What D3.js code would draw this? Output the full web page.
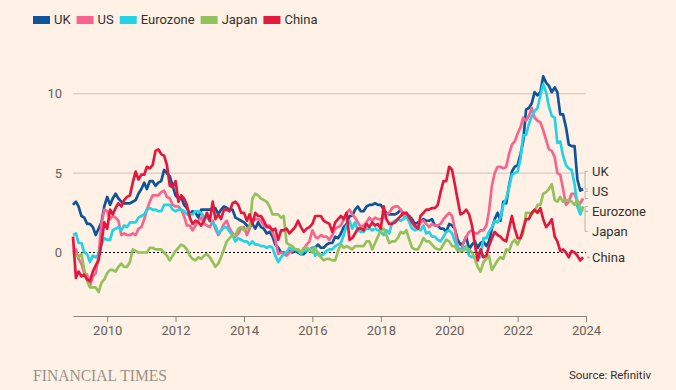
<!DOCTYPE html>
<html>
<head>
<meta charset="utf-8">
<script src="https://cdn.jsdelivr.net/npm/d3@7"></script>
<style>
  body { margin: 0; background: #fff1e5; }
  svg text { font-family: Roboto, "Open Sans", sans-serif; }
</style>
</head>
<body>
<div id="chart"></div>
<script>
// Monthly inflation, % year on year, Jan 2009 - Dec 2023
const seriesNames = ["UK", "US", "Eurozone", "Japan", "China"];
const seriesColors = ["#0f5499", "#f6648f", "#22d3e6", "#93c15c", "#e1193f"];

const ukValues = [
  3.0, 3.2, 2.9, 2.3, 2.2, 1.8, 1.8, 1.6, 1.1, 1.5, 1.9, 2.9,
  3.5, 3.0, 3.4, 3.7, 3.4, 3.2, 3.1, 3.1, 3.1, 3.2, 3.3, 3.7,
  4.0, 4.4, 4.0, 4.5, 4.5, 4.2, 4.4, 4.5, 5.2, 5.0, 4.8, 4.2,
  3.6, 3.4, 3.5, 3.0, 2.8, 2.4, 2.6, 2.5, 2.2, 2.7, 2.7, 2.7,
  2.7, 2.8, 2.8, 2.4, 2.7, 2.9, 2.8, 2.7, 2.7, 2.2, 2.1, 2.0,
  1.9, 1.7, 1.6, 1.8, 1.5, 1.9, 1.6, 1.5, 1.2, 1.3, 1.0, 0.5,
  0.3, 0.0, 0.0, -0.1, 0.1, 0.0, 0.1, 0.0, -0.1, -0.1, 0.1, 0.2,
  0.3, 0.3, 0.5, 0.3, 0.3, 0.5, 0.6, 0.6, 1.0, 0.9, 1.2, 1.6,
  1.8, 2.3, 2.3, 2.7, 2.9, 2.6, 2.6, 2.9, 3.0, 3.0, 3.1, 3.0,
  3.0, 2.7, 2.5, 2.4, 2.4, 2.4, 2.5, 2.7, 2.4, 2.4, 2.3, 2.1,
  1.8, 1.9, 1.9, 2.1, 2.0, 2.0, 2.1, 1.7, 1.7, 1.5, 1.5, 1.3,
  1.8, 1.7, 1.5, 0.8, 0.5, 0.6, 1.0, 0.2, 0.5, 0.7, 0.3, 0.6,
  0.7, 0.4, 0.7, 1.5, 2.1, 2.5, 2.0, 3.2, 3.1, 4.2, 5.1, 5.4,
  5.5, 6.2, 7.0, 9.0, 9.1, 9.4, 10.1, 9.9, 10.1, 11.1, 10.7, 10.5,
  10.1, 10.4, 10.1, 8.7, 8.7, 7.9, 6.8, 6.7, 6.7, 4.6, 3.9, 4.0
];

const usValues = [
  0.0, 0.2, -0.4, -0.7, -1.3, -1.4, -2.1, -1.5, -1.3, -0.2, 1.8, 2.7,
  2.6, 2.1, 2.3, 2.2, 2.0, 1.1, 1.2, 1.1, 1.1, 1.2, 1.1, 1.5,
  1.6, 2.1, 2.7, 3.2, 3.6, 3.6, 3.6, 3.8, 3.9, 3.5, 3.4, 3.0,
  2.9, 2.9, 2.7, 2.3, 1.7, 1.7, 1.4, 1.7, 2.0, 2.2, 1.8, 1.7,
  1.6, 2.0, 1.5, 1.1, 1.4, 1.8, 2.0, 1.5, 1.2, 1.0, 1.2, 1.5,
  1.6, 1.1, 1.5, 2.0, 2.1, 2.1, 2.0, 1.7, 1.7, 1.7, 1.3, 0.8,
  -0.1, 0.0, -0.1, -0.2, 0.0, 0.1, 0.2, 0.2, 0.0, 0.2, 0.5, 0.7,
  1.4, 1.0, 0.9, 1.1, 1.0, 1.0, 0.8, 1.1, 1.5, 1.6, 1.7, 2.1,
  2.5, 2.7, 2.4, 2.2, 1.9, 1.6, 1.7, 1.9, 2.2, 2.0, 2.2, 2.1,
  2.1, 2.2, 2.4, 2.5, 2.8, 2.9, 2.9, 2.7, 2.3, 2.5, 2.2, 1.9,
  1.6, 1.5, 1.9, 2.0, 1.8, 1.6, 1.8, 1.7, 1.7, 1.8, 2.1, 2.3,
  2.5, 2.3, 1.5, 0.3, 0.1, 0.6, 1.0, 1.3, 1.4, 1.2, 1.2, 1.4,
  1.4, 1.7, 2.6, 4.2, 5.0, 5.4, 5.4, 5.3, 5.4, 6.2, 6.8, 7.0,
  7.5, 7.9, 8.5, 8.3, 8.6, 9.1, 8.5, 8.3, 8.2, 7.7, 7.1, 6.5,
  6.4, 6.0, 5.0, 4.9, 4.0, 3.0, 3.2, 3.7, 3.7, 3.2, 3.1, 3.4
];

const eurozoneValues = [
  1.1, 1.2, 0.6, 0.6, 0.0, -0.1, -0.6, -0.2, -0.3, -0.1, 0.5, 0.9,
  0.8, 0.8, 1.4, 1.5, 1.6, 1.4, 1.7, 1.6, 1.9, 1.9, 1.9, 2.2,
  2.3, 2.4, 2.7, 2.8, 2.7, 2.7, 2.6, 2.6, 3.0, 3.0, 3.0, 2.7,
  2.6, 2.7, 2.7, 2.6, 2.4, 2.4, 2.4, 2.6, 2.6, 2.5, 2.2, 2.2,
  2.0, 1.8, 1.7, 1.2, 1.4, 1.6, 1.6, 1.3, 1.1, 0.7, 0.9, 0.8,
  0.7, 0.7, 0.5, 0.7, 0.5, 0.5, 0.4, 0.4, 0.3, 0.4, 0.3, -0.2,
  -0.6, -0.3, -0.1, 0.0, 0.3, 0.2, 0.2, 0.1, -0.1, 0.1, 0.1, 0.2,
  0.3, -0.2, 0.0, -0.2, -0.1, 0.1, 0.2, 0.2, 0.4, 0.5, 0.6, 1.1,
  1.7, 2.0, 1.5, 1.9, 1.4, 1.3, 1.3, 1.5, 1.5, 1.4, 1.5, 1.4,
  1.3, 1.1, 1.4, 1.2, 1.9, 2.0, 2.1, 2.0, 2.1, 2.3, 1.9, 1.5,
  1.4, 1.5, 1.4, 1.7, 1.2, 1.3, 1.0, 1.0, 0.8, 0.7, 1.0, 1.3,
  1.4, 1.2, 0.7, 0.3, 0.1, 0.3, 0.4, -0.2, -0.3, -0.3, -0.3, -0.3,
  0.9, 0.9, 1.3, 1.6, 2.0, 1.9, 2.2, 3.0, 3.4, 4.1, 4.9, 5.0,
  5.1, 5.9, 7.4, 7.4, 8.1, 8.6, 8.9, 9.1, 9.9, 10.6, 10.1, 9.2,
  8.6, 8.5, 6.9, 7.0, 6.1, 5.5, 5.3, 5.2, 4.3, 2.9, 2.4, 2.9
];

const japanValues = [
  0.0, -0.1, -0.3, -0.1, -1.1, -1.8, -2.2, -2.2, -2.2, -2.5, -1.9, -1.7,
  -1.3, -1.1, -1.1, -1.2, -0.9, -0.7, -0.9, -0.9, -0.6, 0.2, 0.1, 0.0,
  0.0, 0.0, 0.0, 0.3, 0.3, 0.2, 0.2, 0.2, 0.0, -0.2, -0.5, -0.2,
  0.1, 0.3, 0.5, 0.4, 0.2, -0.2, -0.4, -0.5, -0.3, -0.4, -0.2, -0.1,
  -0.3, -0.6, -0.9, -0.7, -0.3, 0.2, 0.7, 0.9, 1.1, 1.1, 1.5, 1.6,
  1.4, 1.5, 1.6, 3.4, 3.7, 3.6, 3.4, 3.3, 3.2, 2.9, 2.4, 2.4,
  2.4, 2.2, 2.3, 0.6, 0.5, 0.4, 0.2, 0.2, 0.0, 0.3, 0.3, 0.2,
  0.0, 0.3, -0.1, -0.3, -0.5, -0.4, -0.4, -0.5, -0.5, 0.1, 0.5, 0.3,
  0.4, 0.3, 0.2, 0.4, 0.4, 0.4, 0.4, 0.7, 0.7, 0.2, 0.6, 1.0,
  1.4, 1.5, 1.1, 0.6, 0.7, 0.7, 0.9, 1.3, 1.2, 1.4, 0.8, 0.3,
  0.2, 0.2, 0.5, 0.9, 0.7, 0.7, 0.5, 0.3, 0.2, 0.2, 0.5, 0.8,
  0.7, 0.4, 0.4, 0.1, 0.1, 0.1, 0.3, 0.2, 0.0, -0.4, -0.9, -1.2,
  -0.6, -0.4, -0.2, -1.1, -0.8, -0.5, -0.3, -0.4, 0.2, 0.1, 0.6, 0.8,
  0.5, 0.9, 1.2, 2.5, 2.5, 2.4, 2.6, 3.0, 3.0, 3.7, 3.8, 4.0,
  4.3, 3.3, 3.2, 3.5, 3.2, 3.3, 3.3, 3.2, 3.0, 3.3, 2.8, 2.6
];

const chinaValues = [
  1.0, -1.6, -1.2, -1.5, -1.4, -1.7, -1.8, -1.2, -0.8, -0.5, 0.6, 1.9,
  1.5, 2.7, 2.4, 2.8, 3.1, 2.9, 3.3, 3.5, 3.6, 4.4, 5.1, 4.6,
  4.9, 4.9, 5.4, 5.3, 5.5, 6.4, 6.5, 6.2, 6.1, 5.5, 4.2, 4.1,
  4.5, 3.2, 3.6, 3.4, 3.0, 2.2, 1.8, 2.0, 1.9, 1.7, 2.0, 2.5,
  2.0, 3.2, 2.1, 2.4, 2.1, 2.7, 2.7, 2.6, 3.1, 3.2, 3.0, 2.5,
  2.5, 2.0, 2.4, 1.8, 2.5, 2.3, 2.3, 2.0, 1.6, 1.6, 1.4, 1.5,
  0.8, 1.4, 1.4, 1.5, 1.2, 1.4, 1.6, 2.0, 1.6, 1.3, 1.5, 1.6,
  1.8, 2.3, 2.3, 2.3, 2.0, 1.9, 1.8, 1.3, 1.9, 2.1, 2.3, 2.1,
  2.5, 0.8, 0.9, 1.2, 1.5, 1.5, 1.4, 1.8, 1.6, 1.9, 1.7, 1.8,
  1.5, 2.9, 2.1, 1.8, 1.8, 1.9, 2.1, 2.3, 2.5, 2.5, 2.2, 1.9,
  1.7, 1.5, 2.3, 2.5, 2.7, 2.7, 2.8, 2.8, 3.0, 3.8, 4.5, 4.5,
  5.4, 5.2, 4.3, 3.3, 2.4, 2.5, 2.7, 2.4, 1.7, 0.5, -0.5, 0.2,
  -0.3, -0.2, 0.4, 0.9, 1.3, 1.1, 1.0, 0.8, 0.7, 1.5, 2.3, 1.5,
  0.9, 0.9, 1.5, 2.1, 2.1, 2.5, 2.7, 2.5, 2.8, 2.1, 1.6, 1.8,
  2.1, 1.0, 0.7, 0.1, 0.2, 0.0, -0.3, 0.1, 0.0, -0.2, -0.5, -0.3
];

const yTicks = [0, 5, 10];
const xTickYears = [2010, 2012, 2014, 2016, 2018, 2020, 2022, 2024];

const allValues = [ukValues, usValues, eurozoneValues, japanValues, chinaValues];
const months = d3.timeMonth.range(new Date(2009, 0, 1), new Date(2024, 0, 1));

const series = seriesNames.map((name, i) => ({
  name,
  color: seriesColors[i],
  values: allValues[i].map((v, j) => ({ date: months[j], value: v }))
}));

// Layout
const W = 676, H = 390;
const margin = { top: 62, right: 90, bottom: 74, left: 73 };
const width = W - margin.left - margin.right;
const height = H - margin.top - margin.bottom;

const svg = d3.select("#chart").append("svg")
  .attr("width", W)
  .attr("height", H)
  .style("background", "#fff1e5");

const g = svg.append("g")
  .attr("transform", `translate(${margin.left},${margin.top})`);

const x = d3.scaleTime()
  .domain([new Date(2009, 0, 1), new Date(2024, 0, 1)])
  .range([0, width]);

const y = d3.scaleLinear()
  .domain([-4, 12])
  .range([height, 0]);

// Gridlines
g.selectAll(".grid")
  .data(yTicks.filter(d => d !== 0))
  .enter().append("line")
  .attr("x1", 0)
  .attr("x2", width)
  .attr("y1", d => y(d))
  .attr("y2", d => y(d))
  .attr("stroke", "#cec2b8")
  .attr("stroke-width", 1);

// Zero line
g.append("line")
  .attr("x1", 0)
  .attr("x2", width)
  .attr("y1", y(0))
  .attr("y2", y(0))
  .attr("stroke", "#000")
  .attr("stroke-width", 1)
  .attr("stroke-dasharray", "2,2");

// Y labels
g.selectAll(".ylab")
  .data(yTicks)
  .enter().append("text")
  .attr("x", -11)
  .attr("y", d => y(d))
  .attr("dy", "0.35em")
  .attr("text-anchor", "end")
  .attr("font-size", 13)
  .attr("fill", "#66605c")
  .text(d => d);

// X axis
const xAxis = d3.axisBottom(x)
  .tickValues(xTickYears.map(yr => new Date(yr, 0, 1)))
  .tickFormat(d3.timeFormat("%Y"))
  .tickSize(6)
  .tickSizeOuter(0)
  .tickPadding(4);

const xg = g.append("g")
  .attr("transform", `translate(0,${height})`)
  .call(xAxis);
xg.select(".domain").attr("stroke", "#8c837d");
xg.selectAll(".tick line").attr("stroke", "#8c837d");
xg.selectAll(".tick text")
  .attr("font-size", 13)
  .attr("fill", "#66605c");

// Lines
const line = d3.line()
  .x(d => x(d.date))
  .y(d => y(d.value));

g.selectAll(".series")
  .data(series)
  .enter().append("path")
  .attr("fill", "none")
  .attr("stroke", d => d.color)
  .attr("stroke-width", 2.7)
  .attr("stroke-linejoin", "round")
  .attr("d", d => line(d.values));

// End labels, dodged so they don't overlap
const gap = 20;
const labels = series.map(s => {
  const last = s.values[s.values.length - 1];
  return { name: s.name, x0: x(last.date), y0: y(last.value) };
});
labels.sort((a, b) => a.y0 - b.y0);
let groups = labels.map(d => ({ members: [d], mean: d.y0 }));
let merged = true;
while (merged) {
  merged = false;
  for (let i = 0; i < groups.length - 1; i++) {
    const a = groups[i], b = groups[i + 1];
    const aBottom = a.mean + (a.members.length - 1) * gap / 2;
    const bTop = b.mean - (b.members.length - 1) * gap / 2;
    if (bTop - aBottom < gap) {
      const members = a.members.concat(b.members);
      groups.splice(i, 2, { members, mean: d3.mean(members, m => m.y0) });
      merged = true;
      break;
    }
  }
}
groups.forEach(grp => grp.members.forEach((m, i) => {
  m.y = grp.mean + (i - (grp.members.length - 1) / 2) * gap;
}));

const bx = width - 1;
labels.forEach(l => {
  if (Math.abs(l.y - l.y0) < 3) {
    g.append("line")
      .attr("x1", bx + 2).attr("x2", bx + 5)
      .attr("y1", l.y).attr("y2", l.y)
      .attr("stroke", "#aaa098");
  } else {
    g.append("path")
      .attr("fill", "none")
      .attr("stroke", "#bdb3aa")
      .attr("d", `M${bx + 3},${l.y}H${bx}V${l.y0}H${bx + 3}`);
  }
  g.append("text")
    .attr("x", bx + 7)
    .attr("y", l.y)
    .attr("dy", "0.35em")
    .attr("font-size", 13)
    .attr("fill", "#33302e")
    .text(l.name);
});

// Legend
const legend = svg.append("g").attr("transform", "translate(33,16)");
let lx = 0;
series.forEach(s => {
  legend.append("rect")
    .attr("x", lx).attr("y", 0)
    .attr("width", 17).attr("height", 8)
    .attr("fill", s.color);
  const t = legend.append("text")
    .attr("x", lx + 21)
    .attr("y", 8)
    .attr("font-size", 13)
    .attr("fill", "#33302e")
    .text(s.name);
  lx += 21 + t.node().getComputedTextLength() + 6;
});

// Footer
svg.append("text")
  .attr("x", 33)
  .attr("y", 381)
  .style("font-family", "'Liberation Serif', 'DejaVu Serif', serif")
  .attr("font-size", 17)
  .attr("textLength", 134)
  .attr("lengthAdjust", "spacingAndGlyphs")
  .attr("fill", "#9a918a")
  .text("FINANCIAL TIMES");

svg.append("text")
  .attr("x", 651)
  .attr("y", 379)
  .attr("text-anchor", "end")
  .attr("font-size", 11.5)
  .attr("fill", "#33302e")
  .text("Source: Refinitiv");
</script>
</body>
</html>
